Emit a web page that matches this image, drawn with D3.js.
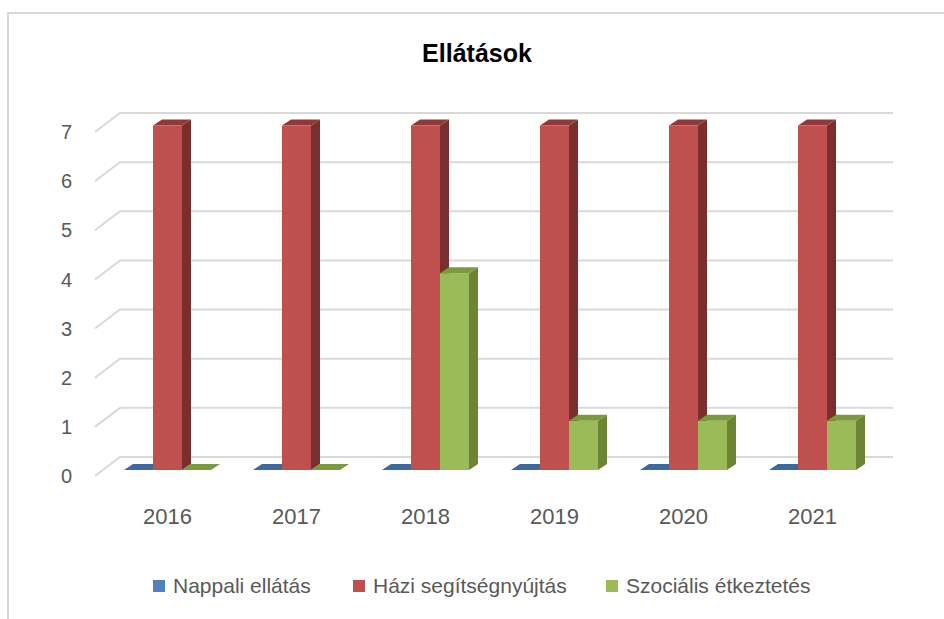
<!DOCTYPE html>
<html>
<head>
<meta charset="utf-8">
<script src="https://cdn.jsdelivr.net/npm/d3@7"></script>
<style>
  html, body { margin: 0; padding: 0; background: #fff; }
  svg { display: block; }
</style>
</head>
<body>
<svg id="chart" width="944" height="619"></svg>
<script>
const title = "Ellátások";
const categories = ["2016", "2017", "2018", "2019", "2020", "2021"];
const seriesNames = ["Nappali ellátás", "Házi segítségnyújtás", "Szociális étkeztetés"];
const nappali = [0, 0, 0, 0, 0, 0];
const hazi = [7, 7, 7, 7, 7, 7];
const szocialis = [0, 0, 4, 1, 1, 1];
const yTicks = [0, 1, 2, 3, 4, 5, 6, 7];

const seriesValues = [nappali, hazi, szocialis];
const colors = [
  { front: "#4f81bd", top: "#3d6a9e", side: "#385d8a" },
  { front: "#c0504d", top: "#8e3a38", side: "#7a2f2d" },
  { front: "#9bbb59", top: "#7a9a3e", side: "#6b8535" }
];

const svg = d3.select("#chart");
const font = "'Liberation Sans', Arial, sans-serif";

// chart border
svg.append("rect").attr("x", 8).attr("y", 13).attr("width", 1000).attr("height", 1000)
  .attr("fill", "none").attr("stroke", "#d9d9d9").attr("stroke-width", 2);

// title
svg.append("text").attr("x", 477).attr("y", 62).attr("text-anchor", "middle")
  .attr("font-family", font).attr("font-weight", "bold").attr("font-size", 25)
  .attr("fill", "#000").text(title);

// scales
const x = d3.scaleBand().domain(categories).range([103, 877]);
const barW = 29;
const yFront = d3.scaleLinear().domain([0, 7]).range([470, 125.6]);
const yBack = d3.scaleLinear().domain([0, 7]).range([457, 113]);
const wallX0 = 120, wallX1 = 893, sideDx = 25, sideDy = 19;
const depthDx = 9, depthDy = -6;

// gridlines (back wall + side wall diagonals)
const grid = svg.append("g").attr("stroke", "#d9d9d9").attr("stroke-width", 2).attr("fill", "none");
yTicks.forEach(v => {
  const yb = yBack(v);
  grid.append("path").attr("d", `M${wallX0 - sideDx},${yb + sideDy}L${wallX0},${yb}L${wallX1},${yb}`);
});

// y labels
svg.append("g").selectAll("text").data(yTicks).join("text")
  .attr("x", 72).attr("y", d => yBack(d) + sideDy).attr("dy", "0.36em")
  .attr("text-anchor", "end").attr("font-family", font).attr("font-size", 20)
  .attr("fill", "#595959").text(d => d);

// bars
const bars = svg.append("g");
categories.forEach((c, i) => {
  const cx = x(c) + x.bandwidth() / 2;
  seriesValues.forEach((vals, s) => {
    const v = vals[i];
    const x0 = cx - 1.5 * barW + s * barW;
    const x1 = x0 + barW;
    const yb = yFront(0), yt = yFront(v);
    const col = colors[s];
    const g = bars.append("g");
    if (v > 0) {
      g.append("path").attr("d",
        `M${x1},${yt}L${x1 + depthDx},${yt + depthDy}L${x1 + depthDx},${yb + depthDy}L${x1},${yb}Z`)
        .attr("fill", col.side);
      g.append("rect").attr("x", x0).attr("y", yt).attr("width", barW).attr("height", yb - yt)
        .attr("fill", col.front);
    }
    g.append("path").attr("d",
      `M${x0},${yt}L${x0 + depthDx},${yt + depthDy}L${x1 + depthDx},${yt + depthDy}L${x1},${yt}Z`)
      .attr("fill", col.top);
  });
});

// category labels
svg.append("g").selectAll("text").data(categories).join("text")
  .attr("x", d => x(d) + x.bandwidth() / 2).attr("y", 524)
  .attr("text-anchor", "middle").attr("font-family", font).attr("font-size", 22)
  .attr("fill", "#595959").text(d => d);

// legend
const legendX = [153, 353, 606];
const legend = svg.append("g");
seriesNames.forEach((name, s) => {
  legend.append("rect").attr("x", legendX[s]).attr("y", 580).attr("width", 12).attr("height", 12)
    .attr("fill", colors[s].front);
  legend.append("text").attr("x", legendX[s] + 20).attr("y", 593)
    .attr("font-family", font).attr("font-size", 21).attr("fill", "#595959").text(name);
});
</script>
</body>
</html>
